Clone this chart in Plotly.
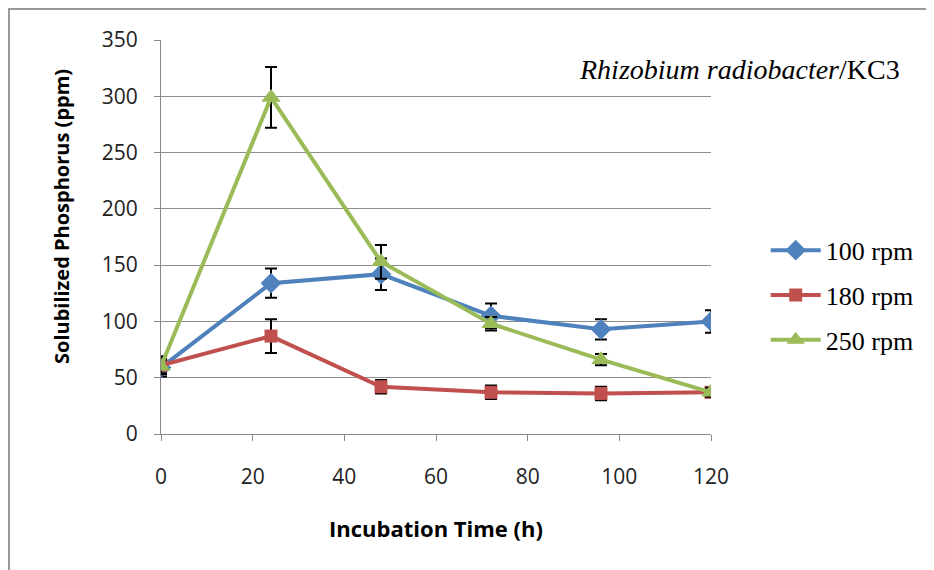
import plotly.graph_objects as go

hours = [0, 24, 48, 72, 96, 120]
series_names = ["100 rpm", "180 rpm", "250 rpm"]
rpm100 = [59, 134, 142, 105, 93, 100]
rpm100_err = [8, 13, 14, 11, 9, 10]
rpm180 = [61, 87, 42, 37, 36, 37]
rpm180_err = [8, 15, 6, 6, 6, 4]
rpm250 = [60, 299, 153, 98, 66, 37]
rpm250_err = [6, 27, 15, 6, 5, 4]
x_ticks = [0, 20, 40, 60, 80, 100, 120]
y_ticks = [0, 50, 100, 150, 200, 250, 300, 350]

colors = ["#4F81BD", "#C0504D", "#9BBB59"]
symbols = ["diamond", "square", "triangle-up"]
sizes = [16, 13, 17]

fig = go.Figure()
for i, (vals, errs) in enumerate([(rpm100, rpm100_err), (rpm180, rpm180_err), (rpm250, rpm250_err)]):
    fig.add_trace(go.Scatter(
        x=hours, y=vals, name=series_names[i], mode="lines+markers",
        legendgroup=f"g{i}",
        line=dict(color=colors[i], width=4),
        marker=dict(symbol=symbols[i], size=sizes[i], color=colors[i]),
        error_y=dict(type="data", array=errs, visible=True, color="black", thickness=2, width=6),
    ))

fig.update_layout(
    width=934, height=570,
    paper_bgcolor="white", plot_bgcolor="white",
    margin=dict(l=153, r=231, t=32, b=144),
    font=dict(family="Open Sans", color="#222"),
    showlegend=True,
    legend=dict(x=1.0995, y=0.352, xanchor="left", yanchor="middle",
                font=dict(family="Liberation Serif", size=26, color="black"),
                tracegroupgap=8, bgcolor="rgba(0,0,0,0)", itemwidth=50),
    xaxis=dict(range=[-0.001, 120.001], tickvals=x_ticks, showgrid=False, zeroline=False,
               showline=True, linecolor="#888", linewidth=1, ticks="outside",
               ticklen=6, tickcolor="#888", tickfont=dict(size=21, color="#222"),
               ticklabelstandoff=18,
               title=dict(text="<b>Incubation Time (h)</b>", font=dict(size=22, color="black"), standoff=32)),
    yaxis=dict(range=[0, 350], tickvals=y_ticks, showgrid=True, gridcolor="#8c8c8c", gridwidth=1,
               zeroline=False, showline=True, linecolor="#888", linewidth=1, ticks="outside",
               ticklen=6, tickcolor="#888", tickfont=dict(size=21, color="#222"),
               ticklabelstandoff=12),
    annotations=[
        dict(text="<i>Rhizobium radiobacter</i>/KC3", xref="paper", yref="paper",
             x=1.347, y=0.924, xanchor="right", yanchor="middle", showarrow=False,
             font=dict(family="Liberation Serif", size=28, color="black")),
        dict(text="<b>Solubilized Phosphorus (ppm)</b>", xref="paper", yref="paper",
             x=(62 - 161) / 550, y=(434 - 217) / 394, xanchor="center", yanchor="middle",
             textangle=-90, showarrow=False, font=dict(size=20, color="black")),
    ],
    shapes=[dict(type="rect", xref="paper", yref="paper", x0=-0.2764, y0=-0.36, x1=1.42, y1=1.0787,
                 line=dict(color="#999", width=2), layer="below")],
)
fig.write_html("out.html")
